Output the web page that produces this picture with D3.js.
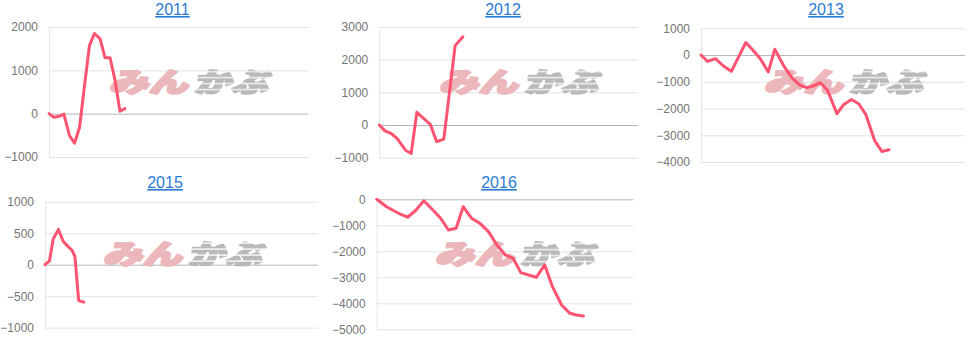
<!DOCTYPE html>
<html>
<head>
<meta charset="utf-8">
<script src="https://cdn.jsdelivr.net/npm/d3@7"></script>
<style>
  body { margin: 0; background: #fff; }
  svg { display: block; }
</style>
</head>
<body>
<div id="chart"></div>
<script>
// 年ごとの損益推移 (x = 年初からの日数)
const years = ["2011", "2012", "2013", "2015", "2016"];

const days2011 = [0, 7, 14, 21, 29, 36, 43, 50, 57, 64, 72, 79, 86, 93, 100, 107];
const values2011 = [0, -85, -60, -10, -510, -680, -320, 640, 1570, 1850, 1725, 1290, 1290, 780, 55, 115];

const days2012 = [0, 8, 17, 25, 37, 45, 53, 72, 81, 91, 107, 118];
const values2012 = [0, -180, -260, -410, -770, -870, 390, 20, -510, -430, 2430, 2700];

const days2013 = [0, 9, 20, 31, 42, 62, 72, 82, 93, 102, 114, 125, 137, 146, 155, 165, 175, 188, 197, 208, 218, 228, 240, 250, 260];
const values2013 = [0, -235, -135, -410, -610, 470, 175, -135, -635, 215, -385, -825, -1135, -1220, -1160, -1035, -1320, -2195, -1860, -1660, -1820, -2230, -3195, -3605, -3545];

const days2015 = [0, 6, 11, 18, 24, 29, 36, 40, 45, 52];
const values2015 = [0, 60, 410, 560, 375, 310, 230, 130, -570, -595];

const days2016 = [0, 14, 33, 44, 55, 67, 81, 91, 102, 113, 123, 135, 147, 159, 171, 183, 194, 205, 216, 227, 239, 250, 263, 275, 284, 294];
const values2016 = [0, -285, -565, -690, -440, -55, -440, -730, -1180, -1115, -285, -730, -925, -1245, -1760, -2140, -2270, -2820, -2910, -3000, -2525, -3360, -4065, -4385, -4450, -4490];

const ticks2011 = [-1000, 0, 1000, 2000];
const ticks2012 = [-1000, 0, 1000, 2000, 3000];
const ticks2013 = [-4000, -3000, -2000, -1000, 0, 1000];
const ticks2015 = [-1000, -500, 0, 500, 1000];
const ticks2016 = [-5000, -4000, -3000, -2000, -1000, 0];

const watermarkLeft = "みん";
const watermarkRight = "かぶ";

// パネルの配置
const panels = [
  { year: years[0], days: days2011, values: values2011, ticks: ticks2011,
    left: 49, right: 308, top: 27, bottom: 157, titleX: 172.5, titleY: 15, wmX: 109, wmY: 93 },
  { year: years[1], days: days2012, values: values2012, ticks: ticks2012,
    left: 379.3, right: 638, top: 27, bottom: 157.7, titleX: 503, titleY: 15, wmX: 439, wmY: 93 },
  { year: years[2], days: days2013, values: values2013, ticks: ticks2013,
    left: 701, right: 965, top: 28.3, bottom: 162, titleX: 826, titleY: 15, wmX: 764, wmY: 93 },
  { year: years[3], days: days2015, values: values2015, ticks: ticks2015,
    left: 45, right: 318, top: 201.7, bottom: 327.7, titleX: 165, titleY: 188, wmX: 103, wmY: 264.5 },
  { year: years[4], days: days2016, values: values2016, ticks: ticks2016,
    left: 376.7, right: 633.3, top: 199.3, bottom: 329.3, titleX: 499, titleY: 188, wmX: 435, wmY: 265 }
];

const width = 972, height = 340;
const svg = d3.select("#chart").append("svg").attr("width", width).attr("height", height);

// 横縞のマスク (ロゴ用)
const defs = svg.append("defs");
const pattern = defs.append("pattern")
  .attr("id", "stripes").attr("patternUnits", "userSpaceOnUse")
  .attr("width", 8).attr("height", 6);
pattern.append("rect").attr("width", 8).attr("height", 6).attr("fill", "#fff");
pattern.append("rect").attr("y", 2).attr("width", 8).attr("height", 1.2).attr("fill", "#000");
defs.append("mask").attr("id", "stripeMask")
  .attr("maskUnits", "userSpaceOnUse").attr("x", -20).attr("y", -40).attr("width", 220).attr("height", 60)
  .append("rect").attr("x", -20).attr("y", -40).attr("width", 220).attr("height", 60).attr("fill", "url(#stripes)");

panels.forEach(p => {
  const g = svg.append("g");
  const x = d3.scaleLinear().domain([0, 365]).range([p.left, p.right]);
  const y = d3.scaleLinear().domain(d3.extent(p.ticks)).range([p.bottom, p.top]);

  // タイトル
  g.append("text")
    .attr("x", p.titleX).attr("y", p.titleY)
    .attr("text-anchor", "middle")
    .style("font-family", "'Liberation Sans', Arial, sans-serif")
    .style("font-size", "16px")
    .style("fill", "#2a7bd3")
    .style("text-decoration", "underline")
    .text(p.year);

  // グリッド
  const axis = g.append("g")
    .attr("transform", `translate(${p.left},0)`)
    .call(d3.axisLeft(y).tickValues(p.ticks).tickSize(-(p.right - p.left)).tickPadding(11).tickFormat(d3.format("d")));
  axis.select(".domain").attr("stroke", "#e6e6e6").attr("d", `M0.5,${p.top}V${p.bottom}`);
  axis.selectAll(".tick line").attr("stroke", d => d === 0 ? "#b5b5b5" : "#e3e3e3");
  axis.selectAll(".tick text")
    .style("font-family", "'Liberation Sans', Arial, sans-serif")
    .style("font-size", "12px")
    .style("fill", "#757575");

  // ウォーターマーク
  const wm = g.append("g").attr("transform", `translate(${p.wmX},${p.wmY}) skewX(-12)`)
    .style("font-family", "'Noto Sans CJK JP', sans-serif")
    .style("font-weight", "900")
    .style("font-size", "27px")
    .style("stroke-width", 2.2)
    .style("stroke-linejoin", "round");
  wm.append("text").attr("x", 0).attr("y", -1)
    .attr("textLength", 79).attr("lengthAdjust", "spacingAndGlyphs")
    .style("fill", "#ebb7ba").style("stroke", "#ebb7ba")
    .text(watermarkLeft);
  wm.append("text").attr("x", 85).attr("y", -1)
    .attr("textLength", 74).attr("lengthAdjust", "spacingAndGlyphs")
    .attr("mask", "url(#stripeMask)")
    .style("fill", "#b9b9b9").style("stroke", "#b9b9b9")
    .text(watermarkRight);

  // 折れ線
  const data = p.days.map((d, i) => ({ day: d, value: p.values[i] }));
  const line = d3.line().x(d => x(d.day)).y(d => y(d.value));
  g.append("path").datum(data)
    .attr("d", line)
    .attr("fill", "none")
    .attr("stroke", "#ff5372")
    .attr("stroke-width", 3)
    .attr("stroke-linejoin", "round")
    .attr("stroke-linecap", "round");
});
</script>
</body>
</html>
